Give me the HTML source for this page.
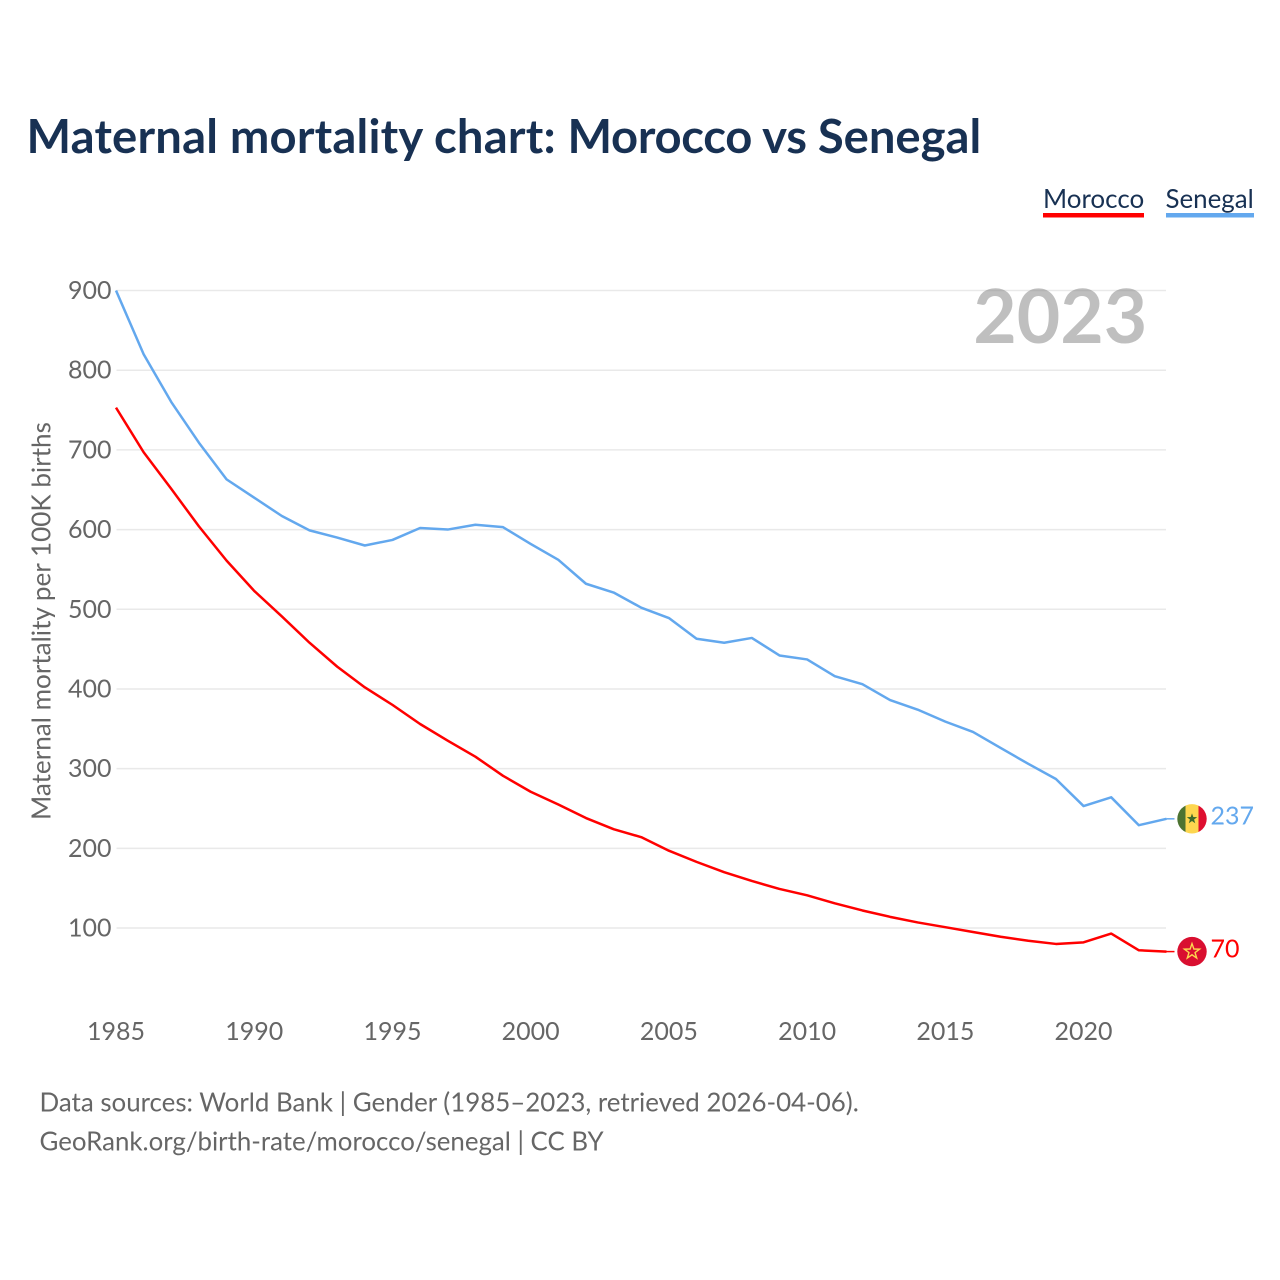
<!DOCTYPE html>
<html lang="en">
<head>
<meta charset="utf-8">
<title>Maternal mortality chart: Morocco vs Senegal</title>
<style>
html,body{margin:0;padding:0;background:#fff;width:1280px;height:1280px;overflow:hidden}
svg{display:block}
text{font-family:"Lato","Carlito","Liberation Sans",sans-serif}
</style>
</head>
<body>
<svg id="chart" xmlns="http://www.w3.org/2000/svg" width="1280" height="1280" viewBox="0 0 1280 1280">
  <rect width="1280" height="1280" fill="#fff"/>
  <text x="26.5" y="153" font-size="47.2" font-weight="700" fill="#183153"><tspan letter-spacing="0.2">Maternal mortality chart: </tspan><tspan letter-spacing="-0.3">Morocco vs </tspan>Senegal</text>

  <g>
    <text x="1043" y="208" font-size="26" fill="#183153">Morocco</text>
    <rect x="1043" y="213" width="101" height="4.5" fill="#ff0000"/>
  </g>
  <g>
    <text x="1165.5" y="208" font-size="25.9" fill="#183153">Senegal</text>
    <rect x="1166" y="213" width="88" height="4.5" fill="#63a8ee"/>
  </g>

  <g id="grid"></g>
  <g id="yticks"></g>
  <g id="xticks"></g>
  <text transform="translate(50.5,820) rotate(-90)" x="0" y="0" font-size="26.1" fill="#666">Maternal mortality per 100K births</text>

  <g id="series"></g>
  <g id="ends"></g>

  <text x="1147.3" y="343" font-size="75" font-weight="700" text-anchor="end" fill="#808080" fill-opacity="0.5">2023</text>

  <text x="39.5" y="1111.5" font-size="25.9" fill="#666">Data sources: World Bank | Gender (1985–2023, retrieved 2026-04-06).</text>
  <text x="39.5" y="1150.5" font-size="25.85" fill="#666">GeoRank.org/birth-rate/morocco/senegal | CC BY</text>
</svg>
<script>
var years = [1985,1986,1987,1988,1989,1990,1991,1992,1993,1994,1995,1996,1997,1998,1999,2000,2001,2002,2003,2004,2005,2006,2007,2008,2009,2010,2011,2012,2013,2014,2015,2016,2017,2018,2019,2020,2021,2022,2023];
var moroccoValues = [753,697,651,604,561,523,491,458,428,402,380,356,335,315,291,271,255,238,224,214,197,183,170,159,149,141,131,122,114,107,101,95,89,84,80,82,93,72,70.4];
var senegalValues = [900,820,760,709,663,640,617,599,590,580,587,602,600,606,603,582,562,532,521,502,489,463,458,464,442,437,416,406,386,374,359,346,326,306,287,253,264,229,237];
var yTickValues = [100,200,300,400,500,600,700,800,900];
var xTickValues = [1985,1990,1995,2000,2005,2010,2015,2020];

var NS = 'http://www.w3.org/2000/svg';
function xScale(year){ return 116 + (year - 1985) * (1166.5 - 116) / 38; }
function yScale(v){ return 928 - (v - 100) * (928 - 290.5) / 800; }
function make(tag, parent, attrs, text){
  var el = document.createElementNS(NS, tag);
  for (var k in attrs) el.setAttribute(k, attrs[k]);
  if (text !== undefined) el.textContent = text;
  parent.appendChild(el);
  return el;
}
function starPoints(cx, cy, r){
  var pts = [];
  for (var i = 0; i < 10; i++){
    var a = -Math.PI / 2 + i * Math.PI / 5;
    var rad = i % 2 ? r * 0.4 : r;
    pts.push((cx + rad * Math.cos(a)).toFixed(2) + ',' + (cy + rad * Math.sin(a)).toFixed(2));
  }
  return pts.join(' ');
}

var gridG = document.getElementById('grid');
var yG = document.getElementById('yticks');
var xG = document.getElementById('xticks');
var seriesG = document.getElementById('series');
var endsG = document.getElementById('ends');

yTickValues.forEach(function(v){
  var line = make('line', gridG, {x1:116.5, x2:1166, y1:yScale(v), y2:yScale(v), stroke:'#e9e9e9', 'stroke-width':1.5});
  
  
  var label = make('text', yG, {x:111.5, y:yScale(v) + 8.5, 'font-size':25, 'text-anchor':'end', fill:'#666'}, String(v));
  
  
});

xTickValues.forEach(function(y){
  var label = make('text', xG, {x:xScale(y), y:1040, 'font-size':25, 'text-anchor':'middle', fill:'#666'}, String(y));
  
  
});

function linePath(values){
  return values.map(function(v, i){
    return (i ? 'L' : 'M') + xScale(years[i]).toFixed(2) + ' ' + yScale(v).toFixed(2);
  }).join(' ');
}

var senegalLine = make('path', seriesG, {d:linePath(senegalValues), fill:'none', stroke:'#63a8ee', 'stroke-width':2.5, 'stroke-linejoin':'round'});


var moroccoLine = make('path', seriesG, {d:linePath(moroccoValues), fill:'none', stroke:'#ff0000', 'stroke-width':2.5, 'stroke-linejoin':'round'});



var lastX = xScale(years[years.length - 1]);
var flagX = lastX + 25.5;
var labelX = lastX + 44;

/* Senegal end marker */
var snV = senegalValues[senegalValues.length - 1];
var snY = yScale(snV);
var snStub = make('line', endsG, {x1:lastX, x2:lastX + 8, y1:snY, y2:snY, stroke:'#63a8ee', 'stroke-width':1.5});


var snClip = make('clipPath', endsG, {id:'clip-sn'});
make('circle', snClip, {cx:flagX, cy:snY, r:14.7});
var snFlag = make('g', endsG, {'clip-path':'url(#clip-sn)'});


make('rect', snFlag, {x:flagX - 15, y:snY - 15, width:9, height:30, fill:'#4c7331'});
make('rect', snFlag, {x:flagX - 6.5, y:snY - 15, width:13.5, height:30, fill:'#fdd64f'});
make('rect', snFlag, {x:flagX + 6.5, y:snY - 15, width:9, height:30, fill:'#de0f30'});
make('polygon', snFlag, {points:starPoints(flagX, snY, 5.5), fill:'#3f6b2c'});
var snLabel = make('text', endsG, {x:labelX, y:snY + 5.8, 'font-size':25, fill:'#63a8ee'}, String(Math.round(snV)));



/* Morocco end marker */
var maV = moroccoValues[moroccoValues.length - 1];
var maY = yScale(maV);
var maStub = make('line', endsG, {x1:lastX, x2:lastX + 8, y1:maY, y2:maY, stroke:'#ff0000', 'stroke-width':1.5});


var maFlag = make('g', endsG, {});


make('circle', maFlag, {cx:flagX, cy:maY, r:14.7, fill:'#d90f30'});
make('polygon', maFlag, {points:starPoints(flagX, maY, 8), fill:'none', stroke:'#fdd64f', 'stroke-width':1.4});
var maLabel = make('text', endsG, {x:labelX, y:maY + 6, 'font-size':25, fill:'#ff0000'}, String(Math.round(maV)));


</script>
</body>
</html>
